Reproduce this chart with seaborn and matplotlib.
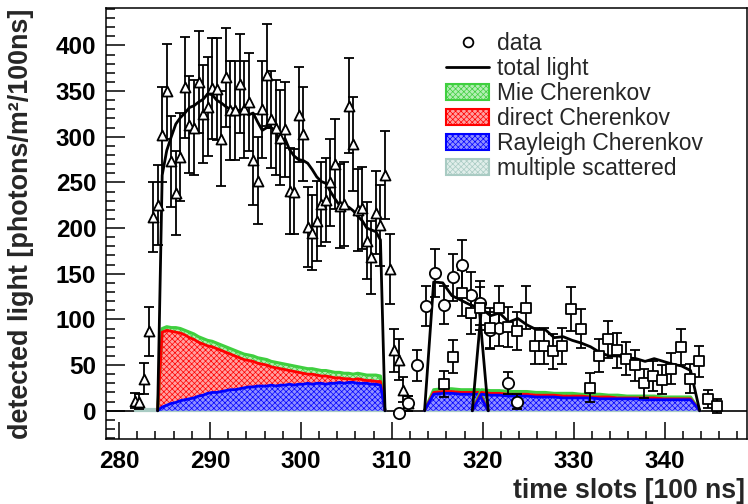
import numpy as np
import pandas as pd
import matplotlib
matplotlib.use("Agg")
import matplotlib.pyplot as plt
import seaborn as sns
from matplotlib.patches import Patch
from matplotlib.lines import Line2D
from matplotlib.ticker import MultipleLocator

sns.set_style("ticks")
plt.rcParams['font.family'] = ['Liberation Sans', 'DejaVu Sans']
plt.rcParams['hatch.linewidth'] = 0.5

# ---------------- data ----------------
tri_t = [281.75, 282.25, 282.75, 283.25, 283.75, 284.25, 284.75, 285.25, 285.75, 286.25,
         286.75, 287.25, 287.75, 288.25, 288.75, 289.25, 289.75, 290.25, 290.75, 291.25,
         291.75, 292.25, 292.75, 293.25, 293.75, 294.25, 294.75, 295.25, 295.75, 296.25,
         296.75, 297.25, 297.75, 298.25, 298.75, 299.25, 299.75, 300.25, 300.75, 301.25,
         301.75, 302.25, 302.75, 303.25, 303.75, 304.25, 304.75, 305.25, 305.75, 306.25,
         306.75, 307.25, 307.75, 308.25, 308.75, 309.25, 309.75, 310.25, 310.75, 311.25,
         311.75]
tri_v = [11, 10, 35, 87, 212, 225, 302, 350, 273, 238,
         278, 354, 313, 310, 360, 325, 333, 353, 352, 298,
         365, 329, 329, 358, 330, 338, 275, 252, 330, 368,
         319, 310, 299, 308, 241, 240, 324, 303, 201, 195,
         208, 226, 231, 250, 270, 224, 226, 334, 292, 220,
         222, 186, 168, 217, 203, 258, 155, 66, 56, 23,
         8]
tri_e = [8, 8, 17, 27, 38, 44, 52, 52, 50, 46,
         48, 55, 53, 52, 56, 54, 54, 55, 56, 52,
         54, 54, 54, 54, 53, 54, 50, 48, 53, 56,
         53, 52, 52, 52, 47, 47, 52, 52, 44, 41,
         44, 46, 46, 48, 49, 46, 46, 52, 51, 45,
         45, 42, 40, 45, 44, 48, 38, 24, 22, 14,
         8]

cir_t = [310.75, 311.75, 312.75, 313.75, 314.75, 315.75, 316.75, 317.75, 318.75, 319.75,
         320.75, 321.75, 322.75, 323.75]
cir_v = [-2, 8, 50, 115, 151, 116, 146, 160, 127, 118, 88, 91, 30, 10]
cir_e = [0, 8, 17, 22, 26, 21, 26, 27, 25, 24, 20, 20, 12, 8]

sq_t = [315.75, 316.75, 317.75, 318.75, 319.75, 320.75, 321.75, 322.75, 323.75, 324.75,
        325.75, 326.75, 327.75, 328.75, 329.75, 330.75, 331.75, 332.75, 333.75, 334.75,
        335.75, 336.75, 337.75, 338.75, 339.75, 340.75, 341.75, 342.75, 343.75, 344.75,
        345.75]
sq_v = [29, 59, 129, 107, 112, 91, 113, 92, 87, 113,
        71, 71, 65, 71, 111, 90, 25, 60, 78, 66,
        57, 50, 30, 38, 34, 46, 70, 35, 54, 13, 5]
sq_e = [14, 18, 25, 23, 24, 22, 24, 22, 21, 24,
        20, 20, 19, 20, 24, 21, 16, 18, 20, 19,
        18, 17, 16, 16, 16, 17, 20, 16, 17, 10, 8]

# model segment A (triangles)
modA_t = [284.25, 284.75, 285.25, 285.75, 286.25, 286.75, 287.25, 287.75, 288.25, 288.75,
          289.25, 289.75, 290.25, 290.75, 291.25, 291.75, 292.25, 292.75, 293.25, 293.75,
          294.25, 294.75, 295.25, 295.75, 296.25, 296.75, 297.25, 297.75, 298.25, 298.75,
          299.25, 299.75, 300.25, 300.75, 301.25, 301.75, 302.25, 302.75, 303.25, 303.75,
          304.25, 304.75, 305.25, 305.75, 306.25, 306.75, 307.25, 307.75, 308.25, 308.75,
          309.25]
modA_total = [0, 258, 285, 300, 314, 321, 326, 332, 334, 338,
              341, 347, 346, 340, 337, 333, 330, 331, 328, 331,
              324, 326, 316, 307, 310, 310, 306, 292, 298, 286,
              279, 275, 274, 271, 264, 256, 251, 249, 240, 232,
              225, 221, 223, 219, 213, 208, 200, 198, 196, 187,
              0]
modA_ray = [0, 4, 6, 8, 9, 11, 12, 13, 14, 16,
            17, 19, 20, 20, 21, 22, 23, 23, 24, 25,
            26, 26, 27, 27, 27, 28, 27, 28, 28, 29,
            28, 29, 29, 30, 29, 30, 30, 29, 30, 30,
            31, 30, 31, 31, 30, 30, 30, 29, 29, 28,
            0]
modA_dir = [0, 86, 88, 87, 86, 85, 83, 80, 78, 75,
            73, 71, 70, 68, 66, 64, 62, 60, 58, 56,
            55, 54, 52, 51, 50, 48, 47, 46, 45, 44,
            43, 42, 41, 40, 40, 39, 38, 38, 37, 36,
            36, 35, 35, 34, 35, 34, 33, 33, 32, 32,
            0]
modA_mie = [0, 90, 92, 91, 91, 90, 88, 86, 84, 81,
            79, 77, 76, 74, 72, 70, 68, 66, 64, 62,
            61, 60, 58, 57, 56, 54, 53, 52, 51, 50,
            49, 48, 47, 46, 46, 45, 44, 44, 43, 42,
            42, 41, 41, 40, 41, 40, 39, 39, 39, 38,
            0]

# model segment B (circles)
modB_t = [313.6, 314.6, 315.6, 316.6, 317.6, 318.6, 319.6, 320.6]
modB_total = [0, 141, 140, 126, 121, 116, 113, 0]
modB_ray = [0, 18, 19, 19, 18, 18, 18, 0]
modB_dir = [0, 20, 21, 21, 20, 20, 20, 0]
modB_mie = [0, 23, 24, 24, 23, 23, 23, 0]

# model segment C (squares)
modC_t = [318.85, 319.85, 320.85, 321.85, 322.85, 323.85, 324.85, 325.85, 326.85, 327.85,
          328.85, 329.85, 330.85, 331.85, 332.85, 333.85, 334.85, 335.85, 336.85, 337.85,
          338.85, 339.85, 340.85, 341.85, 342.85, 343.85]
modC_total = [0, 112, 104, 107, 97, 101, 94, 89, 89, 80,
              81, 77, 74, 70, 64, 60, 60, 58, 57, 54,
              57, 54, 51, 49, 44, 0]
modC_ray = [0, 18, 17, 17, 16, 16, 16, 15, 15, 15,
            14, 14, 14, 14, 13, 13, 13, 13, 13, 12,
            12, 12, 12, 12, 12, 0]
modC_dir = [0, 20, 19, 19, 18, 18, 18, 17, 17, 17,
            16, 16, 16, 15, 15, 15, 14, 14, 14, 14,
            14, 13, 13, 13, 13, 0]
modC_mie = [0, 23, 22, 22, 21, 21, 21, 20, 20, 19,
            19, 19, 18, 18, 18, 17, 17, 16, 16, 16,
            16, 15, 15, 15, 15, 0]

# multiple scattered (tiny)
ms_t = [281.75, 309.25, 313.6, 343.85]
ms_v = [1.5, 1.5, 1.5, 1.5]

labels = ["data", "total light", "Mie Cherenkov", "direct Cherenkov",
          "Rayleigh Cherenkov", "multiple scattered"]

# ---------------- style ----------------
C_MIE, C_DIR, C_RAY, C_MS = "#3fcf3f", "#ff0000", "#0000ff", "#a9cbc3"
F_MIE, F_DIR, F_RAY, F_MS = "#b4efb4", "#ffa0a0", "#9090ff", "#e0eeea"
HATCH = "xxxxxx"

fig = plt.figure(figsize=(7.48, 5.04), dpi=100)
ax = fig.add_axes([106 / 748, 1 - 439 / 504, (746.5 - 106) / 748, (439 - 8) / 504])

ax.axhline(0, color="black", lw=1.2, zorder=1)

# multiple scattered band (two pieces)
for i in (0, 2):
    ax.fill_between(ms_t[i:i + 2], 0, ms_v[i:i + 2], facecolor=F_MS, edgecolor=C_MS,
                    lw=1.6, zorder=2)

for t, ray, dr, mie in ((modA_t, modA_ray, modA_dir, modA_mie),
                        (modB_t, modB_ray, modB_dir, modB_mie),
                        (modC_t, modC_ray, modC_dir, modC_mie)):
    t = np.asarray(t)
    ray, dr, mie = map(np.asarray, (ray, dr, mie))
    ax.fill_between(t, dr, mie, facecolor=F_MIE, hatch=HATCH, edgecolor=C_MIE, lw=0, zorder=2)
    ax.fill_between(t, ray, dr, facecolor=F_DIR, hatch=HATCH, edgecolor=C_DIR, lw=0, zorder=2)
    ax.fill_between(t, 0, ray, facecolor=F_RAY, hatch=HATCH, edgecolor=C_RAY, lw=0, zorder=2)
    ax.plot(t, mie, color=C_MIE, lw=2.2, zorder=3)
    ax.plot(t, dr, color=C_DIR, lw=2.0, zorder=3)
    ax.plot(t, ray, color=C_RAY, lw=2.0, zorder=3)

for t, tot in ((modA_t, modA_total), (modB_t, modB_total), (modC_t, modC_total)):
    df = pd.DataFrame({"t": t, "v": tot})
    sns.lineplot(data=df, x="t", y="v", ax=ax, color="black", lw=2.0,
                 estimator=None, sort=False, zorder=4)

# data points with error bars
for t, v, e, m, s in ((tri_t, tri_v, tri_e, "^", 52),
                      (cir_t, cir_v, cir_e, "o", 66),
                      (sq_t, sq_v, sq_e, "s", 60)):
    ax.errorbar(t, v, yerr=e, fmt="none", ecolor="black", elinewidth=1.3,
                capsize=3.3, capthick=1.3, zorder=5)
    sns.scatterplot(x=t, y=v, ax=ax, marker=m, s=s, color="white",
                    edgecolor="black", linewidth=1.3, zorder=6, legend=False)

ax.set_xlim(278.57, 349.0)
ax.set_ylim(-31, 441)
ax.set_xticks([280, 290, 300, 310, 320, 330, 340])
ax.set_yticks([0, 50, 100, 150, 200, 250, 300, 350, 400])
ax.xaxis.set_minor_locator(MultipleLocator(2))
ax.yaxis.set_minor_locator(MultipleLocator(10))
ax.tick_params(axis="both", which="both", direction="in", top=False, right=False,
               width=1.1, colors="black")
ax.tick_params(axis="y", which="major", length=13.5, pad=7)
ax.tick_params(axis="y", which="minor", length=6.5)
ax.tick_params(axis="x", which="major", length=12, pad=8)
ax.tick_params(axis="x", which="minor", length=6)
for lab in ax.get_xticklabels() + ax.get_yticklabels():
    lab.set_fontsize(17.5)
    lab.set_fontweight("bold")
for sp in ax.spines.values():
    sp.set_linewidth(1.1)
    sp.set_color("black")
ax.set_xlabel("")
ax.set_ylabel("")

fig.text(21 / 748, 1 - 9 / 504, "detected light [photons/m\u00b2/100ns]", rotation=90,
         ha="center", va="top", fontsize=19.4, fontweight="bold")
fig.text(745 / 748, 1 - 491 / 504, "time slots [100 ns]", ha="right", va="center",
         fontsize=19.2, fontweight="bold")

handles = [
    Line2D([], [], marker="o", ls="none", markerfacecolor="white", markeredgecolor="black",
           markersize=7, markeredgewidth=1.3),
    Line2D([], [], color="black", lw=2.0),
    Patch(facecolor=F_MIE, edgecolor=C_MIE, hatch=HATCH, lw=1.5),
    Patch(facecolor=F_DIR, edgecolor=C_DIR, hatch=HATCH, lw=1.5),
    Patch(facecolor=F_RAY, edgecolor=C_RAY, hatch=HATCH, lw=1.5),
    Patch(facecolor=F_MS, edgecolor=C_MS, hatch=HATCH, lw=1.5),
]
ax.legend(handles, labels, loc="upper left", bbox_to_anchor=(446 / 748, 1 - 32 / 504),
          bbox_transform=fig.transFigure, frameon=False, fontsize=16.5, borderaxespad=0,
          borderpad=0, handlelength=1.88, handleheight=0.72, handletextpad=0.35,
          labelspacing=0.085)

fig.savefig("out.png", dpi=100)
